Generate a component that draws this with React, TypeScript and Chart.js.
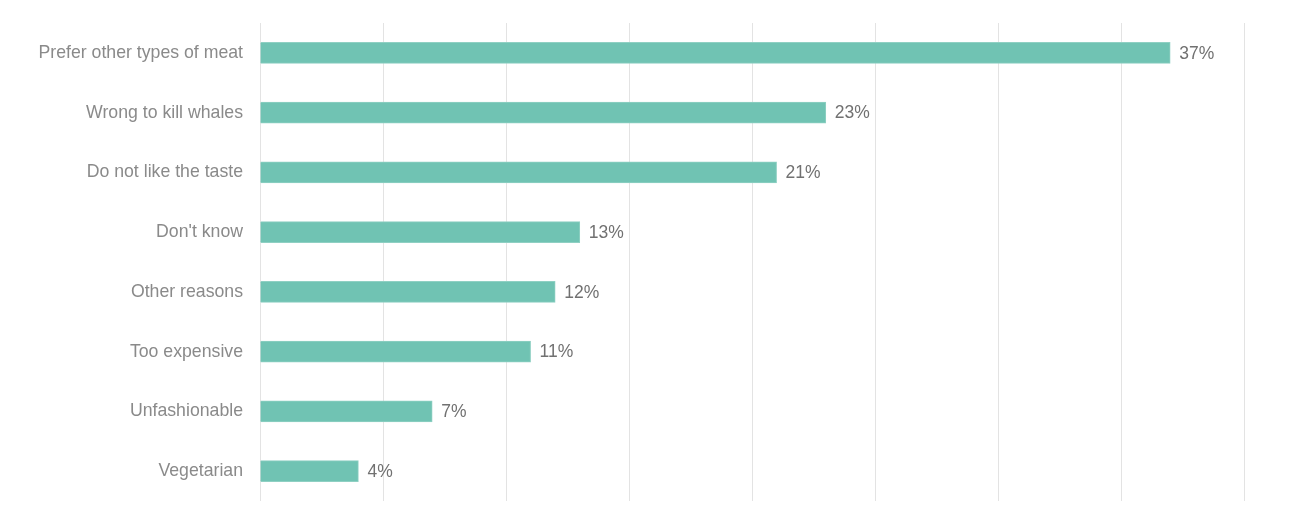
import { useEffect, useRef } from "react";
import Chart from "chart.js/auto";

const reasons = [
  "Prefer other types of meat",
  "Wrong to kill whales",
  "Do not like the taste",
  "Don't know",
  "Other reasons",
  "Too expensive",
  "Unfashionable",
  "Vegetarian",
];

const shares = [37, 23, 21, 13, 12, 11, 7, 4];

// draws the "37%" style labels just past the end of each bar
const valueLabels = {
  id: "valueLabels",
  afterDatasetsDraw(chart: Chart) {
    const { ctx } = chart;
    const meta = chart.getDatasetMeta(0);
    ctx.save();
    ctx.font = "17.5px 'Liberation Sans', Arial, sans-serif";
    ctx.fillStyle = "#717171";
    ctx.textAlign = "left";
    ctx.textBaseline = "middle";
    meta.data.forEach((bar: any, i: number) => {
      ctx.fillText(`${shares[i]}%`, bar.x + 9, bar.y + 1);
    });
    ctx.restore();
  },
};

const App = () => {
  const canvasRef = useRef<HTMLCanvasElement | null>(null);
  const chartRef = useRef<Chart | null>(null);

  useEffect(() => {
    if (!canvasRef.current) return;
    if (chartRef.current) chartRef.current.destroy();

    chartRef.current = new Chart(canvasRef.current, {
      type: "bar",
      data: {
        labels: reasons,
        datasets: [
          {
            data: shares,
            backgroundColor: "#70c3b3",
            borderColor: "#8fd0c3",
            borderWidth: 1,
            barThickness: 21,
          },
        ],
      },
      options: {
        indexAxis: "y",
        animation: false,
        responsive: true,
        maintainAspectRatio: false,
        layout: { padding: { left: 0, right: 47, top: 23, bottom: 6 } },
        plugins: {
          legend: { display: false },
          tooltip: { enabled: false },
        },
        scales: {
          x: {
            min: 0,
            max: 40,
            ticks: { display: false, stepSize: 5 },
            grid: { color: "#e3e3e3", drawTicks: false },
            border: { display: false },
            afterFit: (scale: any) => {
              scale.height = 0;
            },
          },
          y: {
            // tick marks hidden, but their length gives the gap before the bars
            grid: { display: false, drawTicks: true, tickLength: 17 },
            border: { display: false },
            ticks: {
              padding: 0,
              color: "#8a8a8a",
              font: { family: "'Liberation Sans', Arial, sans-serif", size: 17.7 },
            },
            afterFit: (scale: any) => {
              scale.width = 260;
              scale.paddingTop = 0;
              scale.paddingBottom = 0;
            },
          },
        },
      },
      plugins: [valueLabels],
    });

    return () => {
      if (chartRef.current) {
        chartRef.current.destroy();
        chartRef.current = null;
      }
    };
  }, []);

  return (
    <div style={{ position: "fixed", left: 0, top: 0, width: 1291, height: 507, background: "#fff" }}>
      <canvas ref={canvasRef} />
    </div>
  );
};

export default App;
